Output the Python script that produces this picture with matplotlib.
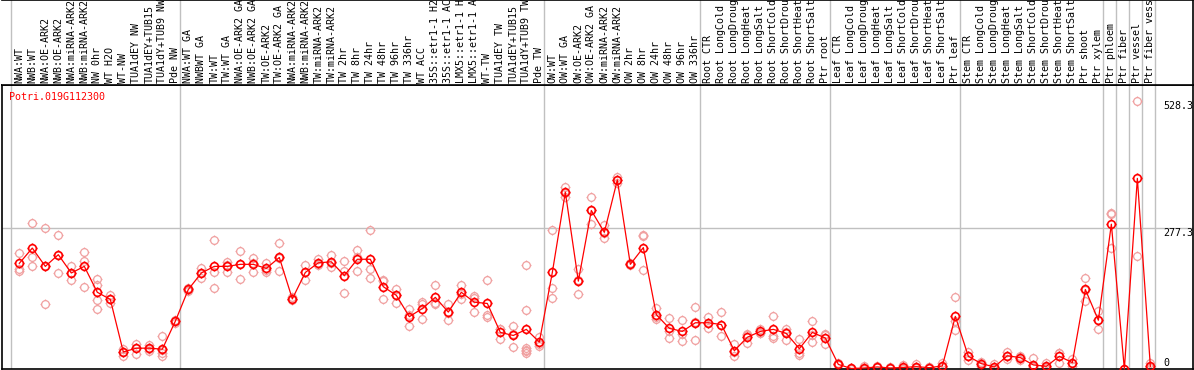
import matplotlib
matplotlib.use("Agg")
import matplotlib.pyplot as plt
from matplotlib.path import Path

# sample labels as shown (clipped to 14 chars in the header)
labels = [
    "NWA:WT", "NWB:WT", "NWA:OE-ARK2", "NWB:OE-ARK2", "NWA:miRNA-ARK2", "NWB:miRNA-ARK2",
    "NW 0hr", "WT H2O", "WT-NW", "TUA1dEY NW", "TUA1dEY+TUB15", "TUA1dY+TUB9 NW", "Pde NW",
    "NWA:WT GA", "NWBWT GA", "TW:WT", "TW:WT GA", "NWA:OE-ARK2 GA", "NWB:OE-ARK2 GA",
    "TW:OE-ARK2", "TW:OE-ARK2 GA", "NWA:miRNA-ARK2", "NWB:miRNA-ARK2", "TW:miRNA-ARK2",
    "TW:miRNA-ARK2", "TW 2hr", "TW 8hr", "TW 24hr", "TW 48hr", "TW 96hr", "TW 336hr",
    "WT ACC", "35S::etr1-1 H2", "35S::etr1-1 AC", "LMX5::etr1-1 H", "LMX5::etr1-1 A",
    "WT-TW", "TUA1dEY TW", "TUA1dEY+TUB15", "TUA1dY+TUB9 TW", "Pde TW",
    "OW:WT", "OW:WT GA", "OW:OE-ARK2", "OW:OE-ARK2 GA", "OW:miRNA-ARK2", "OW:miRNA-ARK2",
    "OW 2hr", "OW 8hr", "OW 24hr", "OW 48hr", "OW 96hr", "OW 336hr",
    "Root CTR", "Root LongCold", "Root LongDroug", "Root LongHeat", "Root LongSalt",
    "Root ShortCold", "Root ShortDrou", "Root ShortHeat", "Root ShortSalt", "Ptr root",
    "Leaf CTR", "Leaf LongCold", "Leaf LongDroug", "Leaf LongHeat", "Leaf LongSalt",
    "Leaf ShortCold", "Leaf ShortDrou", "Leaf ShortHeat", "Leaf ShortSalt", "Ptr leaf",
    "Stem CTR", "Stem LongCold", "Stem LongDroug", "Stem LongHeat", "Stem LongSalt",
    "Stem ShortCold", "Stem ShortDrou", "Stem ShortHeat", "Stem ShortSalt", "Ptr shoot",
    "Ptr xylem", "Ptr phloem", "Ptr fiber", "Ptr vessel", "Ptr fiber vess",
]

means = [
    208, 238, 202, 225, 189, 202, 151, 137, 33.5, 41, 41, 39, 94,
    156.5, 189, 202, 202, 206, 206, 198, 219.5, 138, 190, 209, 211, 184, 216, 216,
    162, 145, 103, 119, 141, 112, 151, 131.5, 129, 72, 66, 78, 53,
    190, 348, 173, 312, 269, 372, 206, 239, 107, 80, 74, 91,
    91, 87.5, 36, 62.5, 74, 78, 70, 40, 72, 61,
    9, 1, 2, 4, 2, 3, 4.6, 2.6, 6, 103.5,
    25, 10.6, 4, 26, 22.4, 8, 5.3, 25, 12.6, 156.5,
    96, 285, 0, 375.2, 5.3,
]

replicates = [
    [229, 196, 193], [288, 220, 202], [277, 202, 127], [263, 225, 188], [202, 188, 175],
    [231, 212, 162], [177, 166, 135, 119], [145, 137, 129], [40, 33, 26], [50, 41, 30],
    [48, 40, 36], [64, 38, 31, 26], [97, 94, 91],
    [159, 156, 154], [199, 188, 179], [254, 191, 160], [211, 204, 190], [233, 207, 178],
    [219, 209, 191], [208, 195, 190], [248, 219, 192], [142, 137, 135], [204, 190, 175],
    [216, 207, 204], [225, 208, 200], [212, 193, 149], [235, 221, 193], [273, 196, 180],
    [176, 173, 138], [158, 146, 129], [118, 106, 85], [131, 128, 99], [166, 130, 127],
    [127, 110, 97], [166, 148, 138], [143, 139, 113], [176, 107, 103], [78, 78, 59],
    [85, 68, 44], [204, 117, 41, 38, 35, 31], [63, 50, 46],
    [273, 160, 139], [359, 346, 338], [196, 175, 147], [338, 312, 286], [283, 267, 257],
    [377, 372, 367], [208, 206, 205], [264, 261, 194], [120, 103, 98], [101, 75, 62],
    [96, 69, 56], [123, 93, 58],
    [103, 90, 80], [113, 86, 64], [49, 34, 26], [69, 66, 52], [79, 71, 71],
    [105, 64, 61], [78, 73, 58], [60, 31, 27], [95, 66, 54], [69, 66, 49],
    [12, 9, 7], [1, 0.5, 1.5], [6, 0, 0], [5, 4, 3], [3, 2, 1],
    [8, 1, 0], [9, 3, 2], [4, 3, 1], [11, 4, 3], [141, 94, 76],
    [33, 25, 17], [14, 12, 5], [9, 3, 0], [33, 26, 20], [26, 24, 17],
    [21, 5, 3], [11, 3, 2], [31, 31, 12], [20, 12, 6], [180, 155, 134],
    [114, 96, 78], [308, 305, 239], [0, 0], [528.3, 222], [11, 3, 2],
]

# group boundaries (index of first sample in each block)
group_starts = [0, 13, 41, 53, 63, 73, 84, 85, 86, 87, 88]
gene = "Potri.019G112300"
mid_line = 277.3
max_val = 528.3

grey = "#c0c0c0"
mono = "DejaVu Sans Mono"
fs = 7.2

# open circle with four small ticks, like the original bitmap marker
tick = 1.3
ticks = Path([(0, 1), (0, tick), (0, -1), (0, -tick), (1, 0), (tick, 0), (-1, 0), (-tick, 0)],
             [Path.MOVETO, Path.LINETO] * 4)
ring = Path.make_compound_path(Path.unit_circle(), ticks)

W, H = 1194, 370
fig = plt.figure(figsize=(W / 100, H / 100), dpi=100)
fig.patch.set_facecolor("white")

xlim = (-1.331, 90.28)
ax = fig.add_axes([2 / W, 1 / H, 1191 / W, 284 / H])
hx = fig.add_axes([2 / W, 285 / H, 1191 / W, 85 / H])

# plot area
for b in group_starts:
    ax.axvline(b - 0.64, color=grey, lw=1, zorder=1)
ax.axhline(mid_line, color=grey, lw=1, zorder=1)

n = len(labels)
xs = list(range(n))
for i, reps in enumerate(replicates):
    ax.plot([i] * len(reps), reps, linestyle="none", marker=ring, ms=7.2,
            mfc="none", mec="#f0a0a0", mew=0.9, zorder=2, clip_on=False)
ax.plot(xs, means, color="#ff0000", lw=0.9, zorder=3, clip_on=False)
ax.plot(xs, means, linestyle="none", marker=ring, ms=7.2, mfc="none",
        mec="#ff0000", mew=1.2, zorder=4, clip_on=False)

ax.set_xlim(*xlim)
ax.set_ylim(0, 559)
ax.set_xticks([])
ax.set_yticks([])
for s in ax.spines.values():
    s.set_color("black")
    s.set_linewidth(1.2)

ax.text(0.0061, 0.9588, gene, transform=ax.transAxes, color="#ff0000",
        fontsize=fs, family=mono, va="center", ha="left")
ax.text(88.0, max_val, f"{max_val}", fontsize=fs, family=mono, va="top", ha="left")
ax.text(88.0, mid_line, f"{mid_line}", fontsize=fs, family=mono, va="top", ha="left")
ax.text(88.0, 6, "0", fontsize=fs, family=mono, va="baseline", ha="left")

# header with rotated sample names
hx.set_xlim(*xlim)
hx.set_ylim(0, 1)
for b in group_starts:
    hx.axvline(b - 0.64, color=grey, lw=1)
for i, lab in enumerate(labels):
    hx.text(i, 0.0235, lab, rotation=90, ha="center", va="bottom",
            fontsize=fs, family=mono, clip_on=True)
hx.set_xticks([])
hx.set_yticks([])
hx.spines["left"].set_visible(False)
for s in ("top", "bottom", "right"):
    hx.spines[s].set_linewidth(1.2)

fig.savefig("out.png", dpi=100)
